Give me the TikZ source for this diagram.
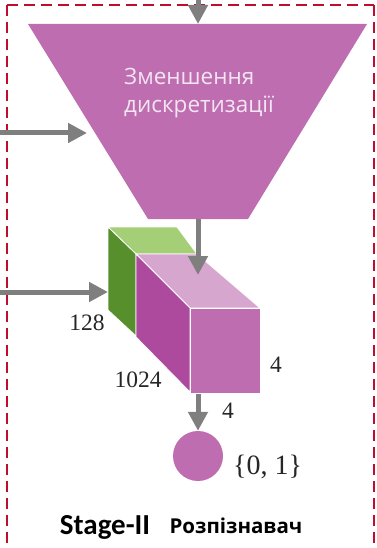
\documentclass[tikz,border=0pt]{standalone}
\usepackage{fontspec}
\setmainfont{Liberation Serif}
\newfontfamily\carl{Carlito}
\newfontfamily\opensans{Open Sans}
\usetikzlibrary{arrows.meta}
\definecolor{mv}{HTML}{BE6DB0}
\definecolor{mvtop}{HTML}{D7A6CE}
\definecolor{mvside}{HTML}{AE4A9E}
\definecolor{grtop}{HTML}{A4CF76}
\definecolor{grside}{HTML}{568F2C}
\definecolor{arr}{HTML}{7F7F7F}
\definecolor{dashred}{HTML}{C00D2E}
\tikzset{
  x=1pt,y=-1pt,
  conn/.style={draw=arr,line width=5pt,-{Triangle[length=19pt,width=19pt]},shorten >=0pt},
  frameline/.style={draw=dashred,line width=1.7pt,dash pattern=on 11pt off 6pt},
  facew/.style={draw=white,line width=0.8pt,line join=round},
  num/.style={font=\fontsize{23.5}{26}\selectfont,text=black!85,inner sep=0pt},
  innertext/.style={font=\opensans\fontsize{22.5}{26}\selectfont,text=white!82!mv,align=left,inner sep=0pt},
}
\begin{document}
\begin{tikzpicture}
\useasboundingbox (0,0) rectangle (376,548);
% frame
\draw[frameline] (7,5) -- (374,5);
\draw[frameline] (7,5) -- (7,548);
\draw[frameline] (374,5) -- (374,548);
% coordinates
\coordinate (topin) at (198,-2);
\coordinate (trapTop) at (198,24);
\coordinate (trapBot) at (198,219);
\coordinate (leftA) at (-2,133);
\coordinate (trapLeft) at (87,133);
\coordinate (leftB) at (-2,292);
\coordinate (boxLeft) at (108,292);
\coordinate (boxTop) at (198,275);
\coordinate (boxBot) at (198,394);
% trapezoid
\fill[mv] (28,24) -- (367,24) -- (248,219) -- (148,219) -- cycle;
\node[innertext,anchor=west] (t1) at (124,76) {Зменшення};
\node[innertext,anchor=west] (t2) at (124,107) {дискретизації};
% green block
\fill[grtop,facew] (108,227) -- (177,227) -- (197,254) -- (136,254) -- cycle;
\fill[grside,facew] (108,227) -- (136,254) -- (136,336) -- (108,310) -- cycle;
% magenta block
\fill[mvtop,facew] (136,254) -- (197,254) -- (260,308) -- (190,308) -- cycle;
\fill[mvside,facew] (136,254) -- (190,308) -- (190,392) -- (136,337) -- cycle;
\fill[mv,facew] (190,308) -- (260,308) -- (260,393) -- (190,393) -- cycle;
% circle
\node[circle,fill=mv,minimum size=50pt,inner sep=0pt] (out) at (198,456) {};
% arrows
\draw[conn] (topin) -- (trapTop);
\draw[conn] (leftA) -- (trapLeft);
\draw[conn] (leftB) -- (boxLeft);
\draw[conn] (trapBot) -- (boxTop);
\draw[conn] (boxBot) -- (out.north);
% labels
\node[num] (n128) at (87,323) {128};
\node[num] (n1024) at (138,380) {1024};
\node[num] (n4a) at (276,365) {4};
\node[num] (n4b) at (228,411) {4};
\node[num,font=\fontsize{28}{30}\selectfont] (set) at (267.5,467) {\{0, 1\}};
\node[font=\carl\bfseries\fontsize{29}{31}\selectfont,inner sep=0pt] (stage) at (105,527) {Stage-II};
\node[font=\opensans\bfseries\fontsize{20.5}{22}\selectfont,inner sep=0pt] (rec) at (236,526) {Розпізнавач};
\end{tikzpicture}
\end{document}
